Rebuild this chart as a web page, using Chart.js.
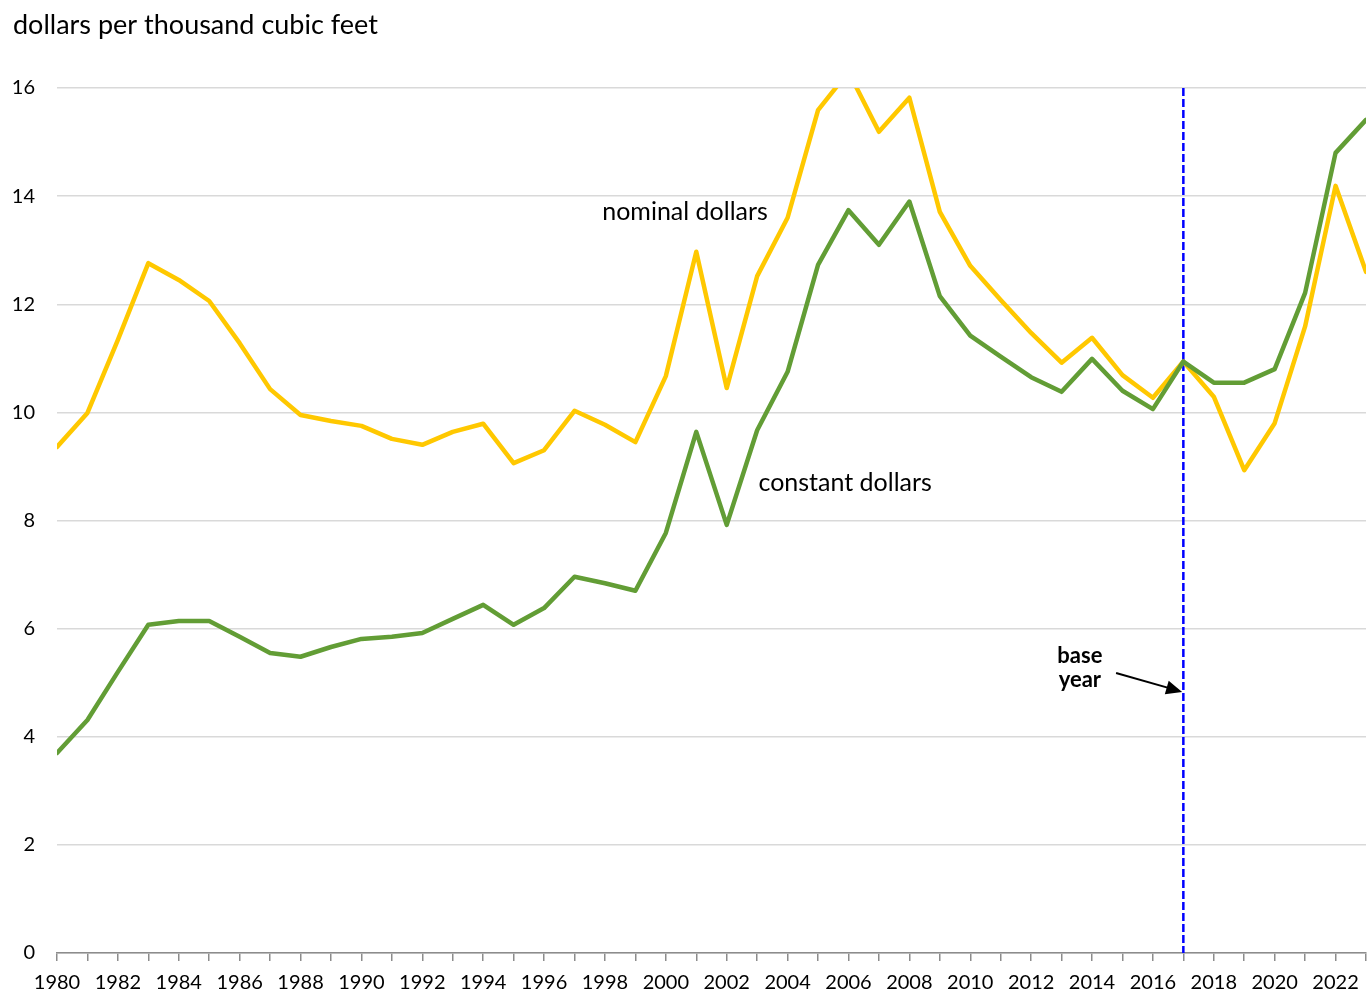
<!DOCTYPE html>
<html>
<head>
<meta charset="utf-8">
<script src="https://cdn.jsdelivr.net/npm/chart.js@4.4.1/dist/chart.umd.min.js"></script>
<style>
  body { margin: 0; background: #fff; }
  #wrap { position: relative; width: 1367px; height: 996px; }
</style>
</head>
<body>
<div id="wrap"><canvas id="myChart"></canvas></div>
<script>
// data
const years = [1980, 1981, 1982, 1983, 1984, 1985, 1986, 1987, 1988, 1989,
  1990, 1991, 1992, 1993, 1994, 1995, 1996, 1997, 1998, 1999,
  2000, 2001, 2002, 2003, 2004, 2005, 2006, 2007, 2008, 2009,
  2010, 2011, 2012, 2013, 2014, 2015, 2016, 2017, 2018, 2019,
  2020, 2021, 2022, 2023];
const nominal = [9.36, 9.99, 11.34, 12.76, 12.45, 12.06, 11.28, 10.43, 9.95, 9.84,
  9.75, 9.51, 9.40, 9.64, 9.79, 9.06, 9.30, 10.03, 9.77, 9.45,
  10.67, 12.97, 10.45, 12.52, 13.60, 15.59, 16.3, 15.19, 15.82, 13.71,
  12.71, 12.08, 11.47, 10.92, 11.38, 10.69, 10.27, 10.94, 10.29, 8.93,
  9.80, 11.59, 14.19, 12.60];
const constant = [3.70, 4.31, 5.20, 6.07, 6.14, 6.14, 5.85, 5.55, 5.48, 5.66,
  5.81, 5.85, 5.92, 6.18, 6.44, 6.07, 6.38, 6.96, 6.84, 6.70,
  7.77, 9.64, 7.92, 9.67, 10.75, 12.73, 13.74, 13.10, 13.90, 12.15,
  11.42, 11.03, 10.65, 10.38, 10.99, 10.40, 10.06, 10.94, 10.55, 10.55,
  10.80, 12.21, 14.80, 15.41];
const yTicks = [0, 2, 4, 6, 8, 10, 12, 14, 16];
const baseYear = 2017;

const FONT = 'Lato, "Open Sans", sans-serif';

function pts(arr) {
  return years.map((y, i) => ({ x: y, y: arr[i] }));
}

// annotations: base year line, labels, arrow
const notes = {
  id: 'notes',
  beforeDatasetsDraw(chart) {
    const { ctx, chartArea, scales } = chart;
    const x = scales.x.getPixelForValue(baseYear);
    ctx.save();
    ctx.strokeStyle = '#0000ff';
    ctx.lineWidth = 2.5;
    ctx.setLineDash([8, 3]);
    ctx.beginPath();
    ctx.moveTo(x, chartArea.top);
    ctx.lineTo(x, chartArea.bottom);
    ctx.stroke();
    ctx.restore();
  },
  afterDatasetsDraw(chart) {
    const { ctx, scales } = chart;
    const px = v => scales.x.getPixelForValue(v);
    const py = v => scales.y.getPixelForValue(v);
    ctx.save();
    ctx.fillStyle = '#000';
    ctx.textAlign = 'center';
    ctx.textBaseline = 'middle';
    ctx.font = '25px ' + FONT;
    ctx.fillText('nominal dollars', px(2000.63), py(13.71));
    ctx.fillText('constant dollars', px(2005.89), py(8.69));
    ctx.font = 'bold 22px ' + FONT;
    ctx.fillText('base', px(2013.6), py(5.49));
    ctx.fillText('year', px(2013.6), py(5.06));

    // arrow
    const x1 = px(2014.79), y1 = py(5.18);
    const x2 = px(2016.96), y2 = py(4.83);
    ctx.strokeStyle = '#000';
    ctx.lineWidth = 2;
    ctx.beginPath();
    ctx.moveTo(x1, y1);
    ctx.lineTo(x2 - 12, y2 - 3.5);
    ctx.stroke();
    const a = Math.atan2(y2 - y1, x2 - x1);
    ctx.beginPath();
    ctx.moveTo(x2, y2);
    ctx.lineTo(x2 - 16 * Math.cos(a) + 7 * Math.sin(a), y2 - 16 * Math.sin(a) - 7 * Math.cos(a));
    ctx.lineTo(x2 - 16 * Math.cos(a) - 7 * Math.sin(a), y2 - 16 * Math.sin(a) + 7 * Math.cos(a));
    ctx.closePath();
    ctx.fillStyle = '#000';
    ctx.fill();

    // axis unit title
    ctx.textAlign = 'left';
    ctx.textBaseline = 'alphabetic';
    ctx.font = '27px ' + FONT;
    ctx.fillText('dollars per thousand cubic feet', 13, 34);
    ctx.restore();
  }
};

const ctx = document.getElementById('myChart').getContext('2d');
const myChart = new Chart(ctx, {
  type: 'line',
  data: {
    datasets: [{
      label: 'constant dollars',
      data: pts(constant),
      borderColor: '#629d35',
      borderWidth: 4.5,
      pointRadius: 0,
      borderJoinStyle: 'round',
      borderCapStyle: 'round'
    }, {
      label: 'nominal dollars',
      data: pts(nominal),
      borderColor: '#ffc800',
      borderWidth: 4.5,
      pointRadius: 0,
      borderJoinStyle: 'round',
      borderCapStyle: 'round'
    }]
  },
  options: {
    responsive: true,
    maintainAspectRatio: false,
    animation: false,
    layout: { padding: { top: 88, right: 1, left: 0, bottom: 0 } },
    plugins: {
      legend: { display: false },
      tooltip: { enabled: false }
    },
    scales: {
      x: {
        type: 'linear',
        min: years[0],
        max: years[years.length - 1],
        afterFit: (scale) => {
          scale.height = 43;
          scale.paddingLeft = 0;
          scale.paddingRight = 0;
        },
        grid: {
          display: true,
          drawOnChartArea: false,
          drawTicks: true,
          tickLength: 8,
          color: '#8c8c8c',
          lineWidth: 1.5
        },
        border: { display: true, color: '#8c8c8c', width: 1.5 },
        ticks: {
          stepSize: 1,
          autoSkip: false,
          maxRotation: 0,
          padding: 10,
          color: '#000',
          font: { family: FONT, size: 20 },
          callback: v => (v % 2 === 0 ? String(v) : '')
        }
      },
      y: {
        min: 0,
        max: 16,
        afterFit: (scale) => { scale.width = 57; },
        afterBuildTicks: (scale) => { scale.ticks = yTicks.map(v => ({ value: v })); },
        grid: { color: '#d9d9d9', lineWidth: 1.5, drawTicks: false },
        border: { display: false },
        ticks: {
          padding: 22,
          color: '#000',
          font: { family: FONT, size: 20 }
        }
      }
    }
  },
  plugins: [notes]
});
</script>
</body>
</html>
